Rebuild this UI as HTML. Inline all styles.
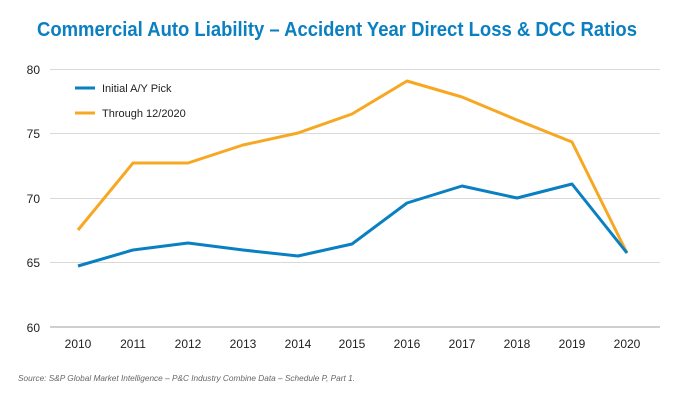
<!DOCTYPE html>
<html><head><style>body{margin:0;background:#fff}</style></head><body>
<svg width="674" height="400" xmlns="http://www.w3.org/2000/svg" font-family="Liberation Sans, sans-serif">
<rect width="674" height="400" fill="#fff"/>
<text x="337" y="36" text-anchor="middle" font-size="20" font-weight="bold" fill="#0a7fc1" textLength="600" lengthAdjust="spacingAndGlyphs">Commercial Auto Liability – Accident Year Direct Loss &amp; DCC Ratios</text>
<g stroke="#d9d9d9" stroke-width="1">
<line x1="50" x2="660" y1="69.5" y2="69.5"/>
<line x1="50" x2="660" y1="133.5" y2="133.5"/>
<line x1="50" x2="660" y1="198.5" y2="198.5"/>
<line x1="50" x2="660" y1="262.5" y2="262.5"/>
</g>
<line x1="50" x2="660" y1="327" y2="327" stroke="#bfbfbf" stroke-width="1.5"/>
<g font-size="12" fill="#222" text-anchor="end">
<text x="40" y="74">80</text><text x="40" y="138">75</text><text x="40" y="203">70</text><text x="40" y="267">65</text><text x="40" y="332">60</text>
</g>
<g font-size="12" fill="#222" text-anchor="middle">
<text x="78" y="348">2010</text><text x="133" y="348">2011</text><text x="188" y="348">2012</text><text x="243" y="348">2013</text><text x="298" y="348">2014</text><text x="352" y="348">2015</text><text x="407" y="348">2016</text><text x="462" y="348">2017</text><text x="517" y="348">2018</text><text x="572" y="348">2019</text><text x="627" y="348">2020</text>
</g>
<polyline fill="none" stroke="#f7a823" stroke-width="3" stroke-linejoin="round" points="78,230 133,163 188,163 243,145 298,133 352,114 407,81 462,97 517,120 572,142 627,253"/>
<polyline fill="none" stroke="#0a7fc1" stroke-width="3" stroke-linejoin="round" points="78,266 133,250 188,243 243,250 298,256 352,244 407,203 462,186 517,198 572,184 627,253"/>
<line x1="75" x2="95" y1="88" y2="88" stroke="#0a7fc1" stroke-width="3"/>
<text x="102" y="92" font-size="11" fill="#222">Initial A/Y Pick</text>
<line x1="75" x2="95" y1="113" y2="113" stroke="#f7a823" stroke-width="3"/>
<text x="102" y="117" font-size="11" fill="#222">Through 12/2020</text>
<text x="18" y="381" font-size="8.5" font-style="italic" fill="#666" textLength="337" lengthAdjust="spacingAndGlyphs">Source: S&amp;P Global Market Intelligence – P&amp;C Industry Combine Data – Schedule P, Part 1.</text>
</svg>
</body></html>
